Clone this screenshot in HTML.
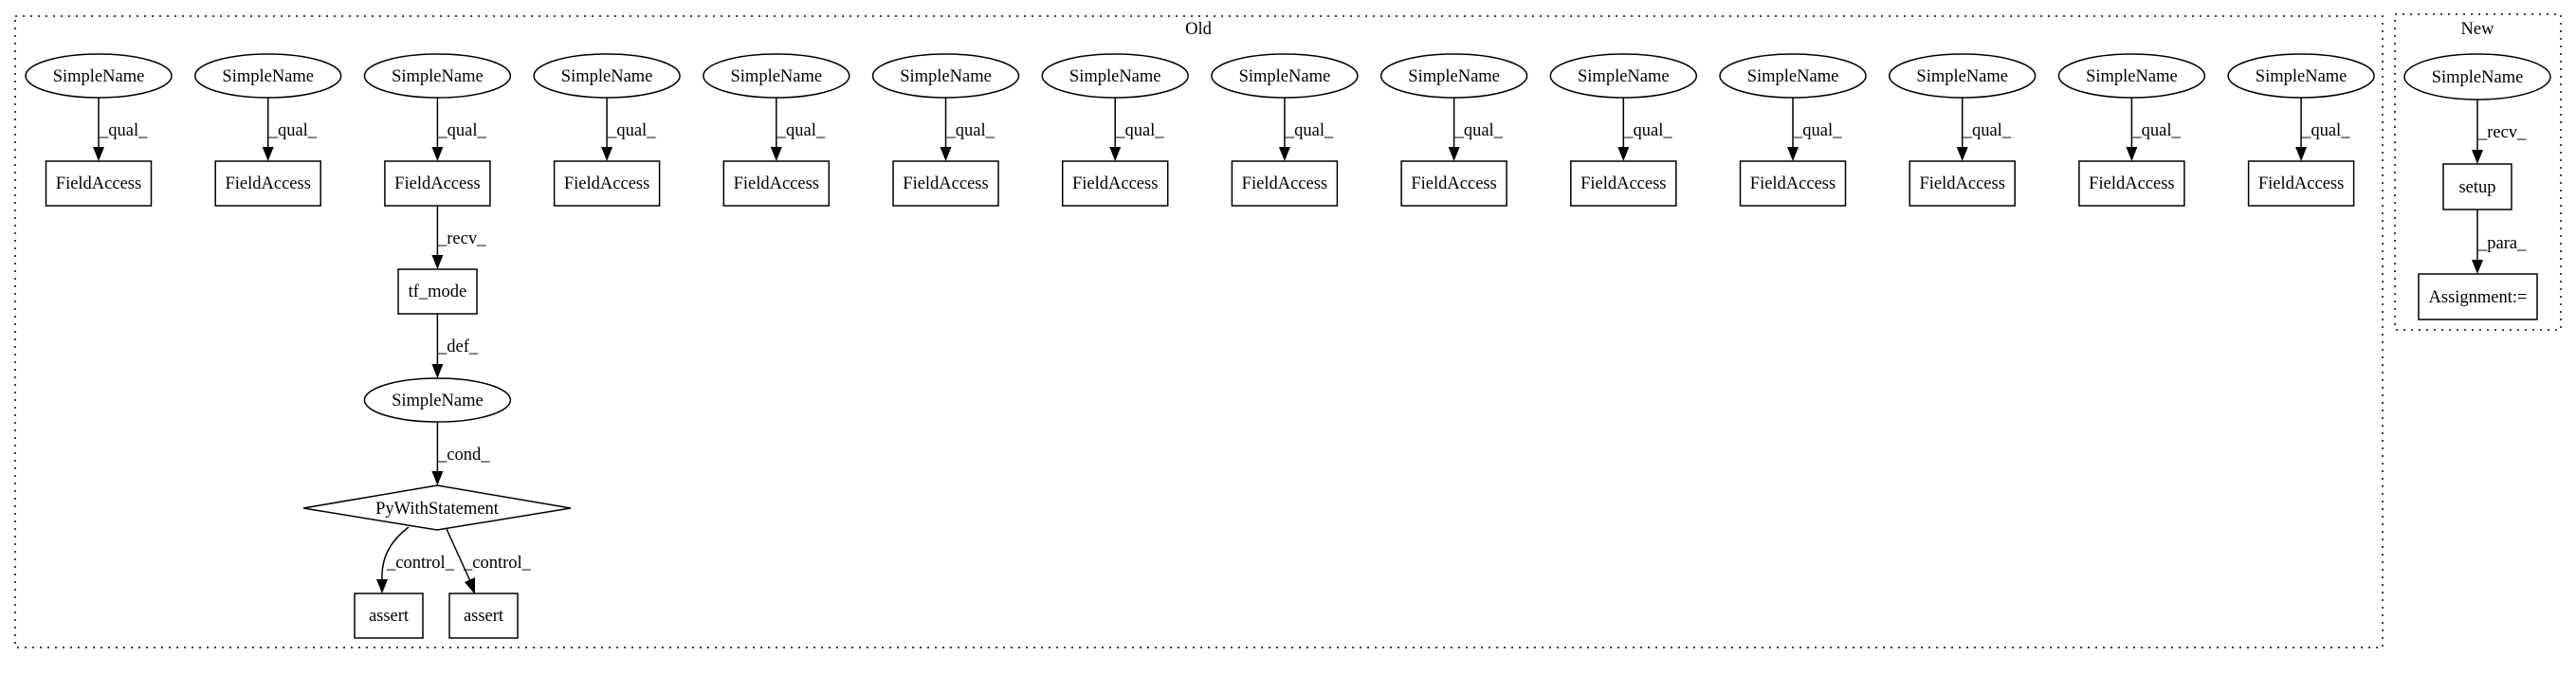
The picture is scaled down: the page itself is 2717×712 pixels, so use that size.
<!DOCTYPE html>
<html><head><meta charset="utf-8"><style>
html,body{margin:0;padding:0;background:#fff}
svg{display:block}
text{font-family:"Liberation Serif",serif;font-size:18.5px;fill:#000}
</style></head><body>
<svg width="2717" height="712" viewBox="0 0 2717 712" xmlns="http://www.w3.org/2000/svg">
<defs>
<g id="col">
<ellipse cx="0" cy="80" rx="77" ry="23" fill="none" stroke="#000" stroke-width="1.5"/>
<text x="0" y="86" text-anchor="middle">SimpleName</text>
<line x1="0" y1="103" x2="0" y2="156" stroke="#000" stroke-width="1.5"/>
<polygon points="-6,155 6,155 0,170" fill="#000"/>
<text x="1" y="143">_qual_</text>
<rect x="-55.5" y="170" width="111" height="47" fill="none" stroke="#000" stroke-width="1.5"/>
<text x="0" y="199" text-anchor="middle">FieldAccess</text>
</g>
</defs>
<rect x="16" y="17" width="2497" height="666" fill="none" stroke="#000" stroke-width="1.5" stroke-dasharray="2,6"/>
<text x="1264" y="36" text-anchor="middle">Old</text>
<rect x="2526" y="15" width="175" height="333" fill="none" stroke="#000" stroke-width="1.5" stroke-dasharray="2,6"/>
<text x="2613" y="36" text-anchor="middle">New</text>

<use href="#col" x="104"/>
<use href="#col" x="282.7"/>
<use href="#col" x="461.4"/>
<use href="#col" x="640.1"/>
<use href="#col" x="818.8"/>
<use href="#col" x="997.5"/>
<use href="#col" x="1176.2"/>
<use href="#col" x="1354.9"/>
<use href="#col" x="1533.6"/>
<use href="#col" x="1712.3"/>
<use href="#col" x="1891"/>
<use href="#col" x="2069.7"/>
<use href="#col" x="2248.4"/>
<use href="#col" x="2427.1"/>

<!-- chain -->
<line x1="461.4" y1="217" x2="461.4" y2="270" stroke="#000" stroke-width="1.5"/>
<polygon points="455.4,269 467.4,269 461.4,284" fill="#000"/>
<text x="462" y="257">_recv_</text>
<rect x="420" y="284" width="83" height="47" fill="none" stroke="#000" stroke-width="1.5"/>
<text x="461.4" y="313" text-anchor="middle">tf_mode</text>
<line x1="461.4" y1="331" x2="461.4" y2="385" stroke="#000" stroke-width="1.5"/>
<polygon points="455.4,384 467.4,384 461.4,399" fill="#000"/>
<text x="462" y="371">_def_</text>
<ellipse cx="461.4" cy="422" rx="77" ry="23" fill="none" stroke="#000" stroke-width="1.5"/>
<text x="461.4" y="428" text-anchor="middle">SimpleName</text>
<line x1="461.4" y1="445" x2="461.4" y2="498" stroke="#000" stroke-width="1.5"/>
<polygon points="455.4,497 467.4,497 461.4,512" fill="#000"/>
<text x="462" y="485">_cond_</text>
<polygon points="461,512 602,536 461,559 320,536" fill="none" stroke="#000" stroke-width="1.5"/>
<text x="461" y="542" text-anchor="middle">PyWithStatement</text>
<path d="M431,556 C410,572 402,590 403,612" fill="none" stroke="#000" stroke-width="1.5"/>
<polygon points="397,611 409,611 403,626" fill="#000"/>
<text x="408" y="599">_control_</text>
<line x1="471" y1="558" x2="496" y2="613" stroke="#000" stroke-width="1.5"/>
<polygon points="490,614 501,609 501,627" fill="#000"/>
<text x="489" y="599">_control_</text>
<rect x="374" y="626" width="72" height="47" fill="none" stroke="#000" stroke-width="1.5"/>
<text x="410" y="655" text-anchor="middle">assert</text>
<rect x="474" y="626" width="72" height="47" fill="none" stroke="#000" stroke-width="1.5"/>
<text x="510" y="655" text-anchor="middle">assert</text>

<!-- New -->
<ellipse cx="2613" cy="81" rx="77" ry="24" fill="none" stroke="#000" stroke-width="1.5"/>
<text x="2613" y="87" text-anchor="middle">SimpleName</text>
<line x1="2613" y1="105" x2="2613" y2="159" stroke="#000" stroke-width="1.5"/>
<polygon points="2607,158 2619,158 2613,173" fill="#000"/>
<text x="2614" y="145">_recv_</text>
<rect x="2577" y="173" width="72" height="48" fill="none" stroke="#000" stroke-width="1.5"/>
<text x="2613" y="203" text-anchor="middle">setup</text>
<line x1="2613" y1="221" x2="2613" y2="275" stroke="#000" stroke-width="1.5"/>
<polygon points="2607,274 2619,274 2613,289" fill="#000"/>
<text x="2614" y="262">_para_</text>
<rect x="2551" y="289" width="125" height="48" fill="none" stroke="#000" stroke-width="1.5"/>
<text x="2613.5" y="319" text-anchor="middle">Assignment:=</text>
</svg>
</body></html>
